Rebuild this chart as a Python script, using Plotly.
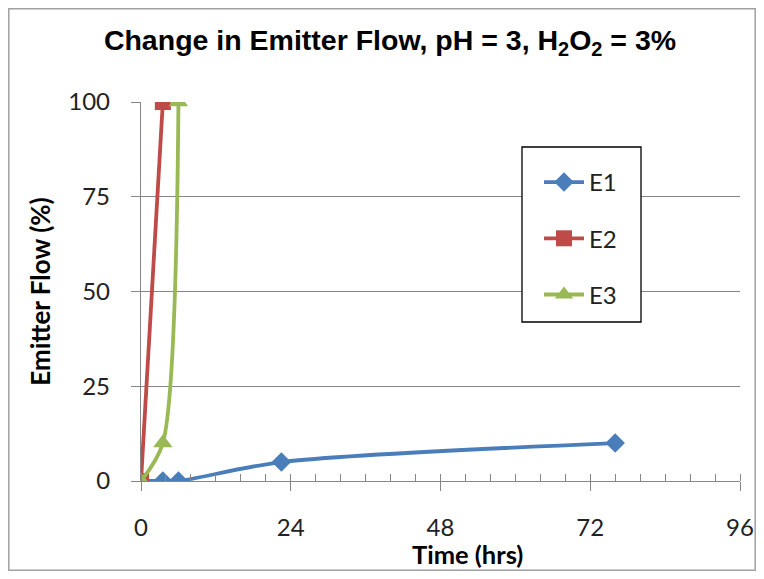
import plotly.graph_objects as go

# Data
e1_time = [0, 3.5, 6, 22.5, 76]
e1_flow = [0, 0, 0, 5, 10]
e2_time = [0, 3.5]
e2_flow = [0, 100]
e3_time = [0, 3.5, 6]
e3_flow = [0, 10, 100]
x_ticks = [0, 24, 48, 72, 96]
y_ticks = [0, 25, 50, 75, 100]

# the page body has an 8px margin; lay out in screen coords and shift
OFF = 8
W, H = 764 - 2 * OFF, 579 - 2 * OFF
ML = 141 - OFF
MR = W - (740 - OFF)
MT = 102 - OFF
MB = H - (481 - OFF)
PW, PH = W - ML - MR, H - MT - MB

def px(sx):
    return (sx - OFF - ML) / PW

def py(sy):
    return (H - MB - (sy - OFF)) / PH

fig = go.Figure()
series = [
    ("E1", e1_time, e1_flow, "#4A7EBB", "diamond", 15),
    ("E2", e2_time, e2_flow, "#BE4B48", "square", 16),
    ("E3", e3_time, e3_flow, "#98B954", "triangle-up", 17),
]
for name, xs, ys, col, sym, sz in series:
    fig.add_trace(go.Scatter(
        x=xs, y=ys, name=name, mode="lines+markers",
        line=dict(color=col, width=3.8, shape="spline", smoothing=0.8),
        marker=dict(symbol=sym, size=sz, color=col),
        legendgroup=name,
    ))

fig.update_layout(
    width=W, height=H,
    margin=dict(l=ML, r=MR, t=MT, b=MB, autoexpand=False),
    paper_bgcolor="white", plot_bgcolor="white",
    title=dict(
        text="Change in Emitter Flow, pH = 3, H<sub>2</sub>O<sub>2</sub> = 3%",
        font=dict(family="Liberation Sans", size=28.5, color="black", weight="bold"),
        x=(390 - OFF) / W, xanchor="center", y=1 - (40 - OFF) / H, yanchor="middle",
    ),
    showlegend=True,
    legend=dict(
        x=px(539), y=py(160), xanchor="left", yanchor="top",
        borderwidth=0, bgcolor="rgba(0,0,0,0)",
        font=dict(family="Lato", size=24, color="#222"),
        tracegroupgap=22, itemwidth=40,
    ),
    font=dict(family="Lato", color="#222"),
    annotations=[dict(
        text="<b>Time (hrs)</b>", xref="paper", yref="paper",
        x=px(467), y=py(554), xanchor="center", yanchor="middle",
        showarrow=False, font=dict(family="Lato", size=25.5, color="black"),
    )],
)
fig.update_xaxes(
    range=[0, 96], tickvals=x_ticks, showgrid=False, zeroline=False, automargin=False,
    showline=True, linecolor="#868686", linewidth=1.3,
    ticks="outside", ticklen=9, tickcolor="#868686", tickwidth=1.3,
    minor=dict(dtick=4, ticks="inside", ticklen=7, tickcolor="#868686", tickwidth=1.2),
    tickfont=dict(family="Lato", size=24, color="#222"),
    ticklabelstandoff=16,
)
fig.update_yaxes(
    range=[0, 100], tickvals=y_ticks, showgrid=True, gridcolor="#868686", gridwidth=1.2,
    zeroline=False, showline=True, linecolor="#868686", linewidth=1.3, automargin=False,
    ticks="outside", ticklen=9, tickcolor="#868686", tickwidth=1.2,
    tickfont=dict(family="Lato", size=24, color="#222"),
    ticklabelstandoff=16,
    title=dict(text="Emitter Flow (%)", font=dict(family="Lato", size=26, color="black", weight="bold"), standoff=10),
)
# legend frame (white filled box over gridlines)
fig.add_shape(type="rect", xref="paper", yref="paper",
              x0=px(522), x1=px(641), y0=py(322), y1=py(147),
              line=dict(color="black", width=1.3), fillcolor="white", layer="above")
# outer chart border
fig.add_shape(type="rect", xref="paper", yref="paper",
              x0=px(8.8), x1=px(755.2), y0=py(570.2), y1=py(8.8),
              line=dict(color="#A0A0A0", width=1.5), layer="below")

fig.write_html("out.html")
